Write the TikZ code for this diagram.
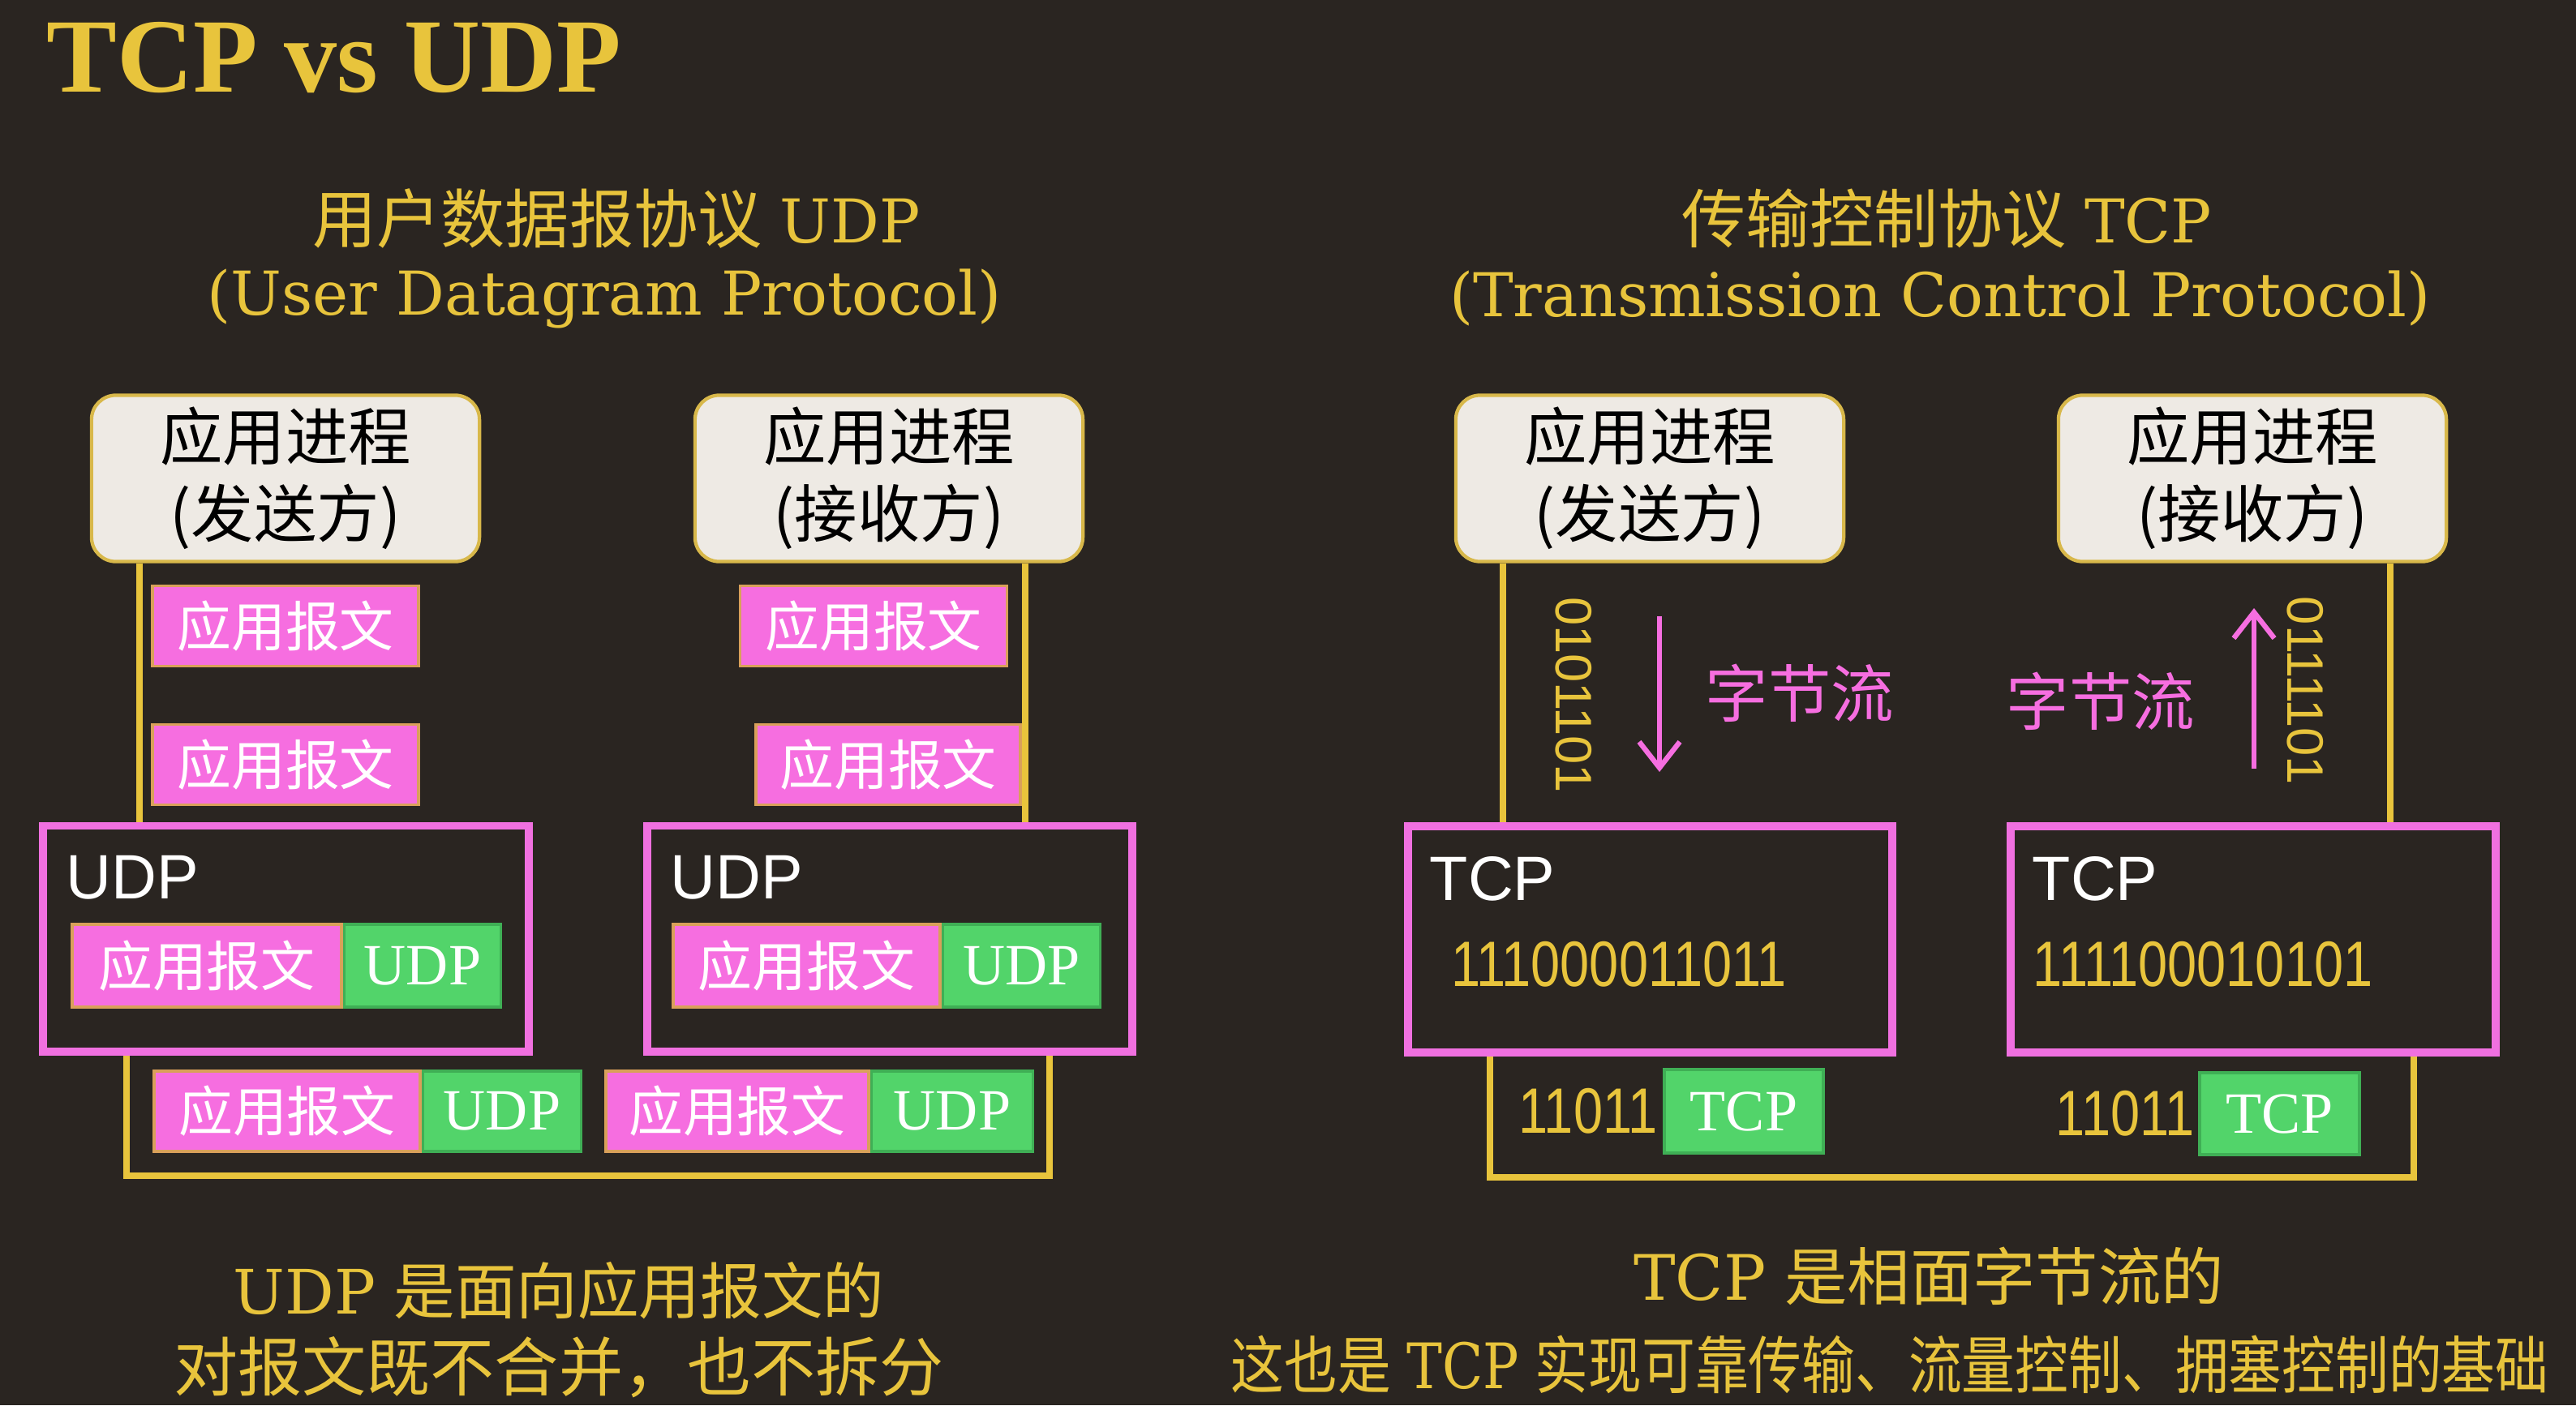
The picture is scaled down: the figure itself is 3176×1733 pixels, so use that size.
\documentclass[tikz,border=0pt]{standalone}
\usepackage{fontspec}
\usepackage{graphicx}
\usetikzlibrary{arrows.meta}
\setmainfont{Liberation Serif}
\newfontfamily\hdfont{DejaVu Serif}
\newfontfamily\tmfont{Liberation Serif}
\newfontfamily\sffont{Liberation Sans}
\newfontfamily\nsffont[FakeStretch=0.82]{Liberation Sans}
\newfontfamily\cjk{Noto Sans CJK SC}
\newcommand{\myfs}[1]{\fontsize{#1}{#1}\selectfont}
\newcommand{\gap}{\hspace{0.3em}}
\pgfdeclarelayer{bgfill}
\pgfdeclarelayer{wires}
\pgfsetlayers{bgfill,wires,main}
\definecolor{bgc}{HTML}{2A2521}
\definecolor{ylw}{HTML}{E8C43C}
\definecolor{pnk}{HTML}{F66EE0}
\definecolor{pnkb}{HTML}{D9A05A}
\definecolor{grn}{HTML}{52D46A}
\definecolor{grnb}{HTML}{3FAF55}
\definecolor{appf}{HTML}{EEEAE4}
\definecolor{appb}{HTML}{D8B84A}
\definecolor{pbox}{HTML}{F070E0}
\tikzset{
  appbox/.style={draw=appb, line width=1.2pt, fill=appf, rounded corners=0.3cm,
    minimum width=4.78cm, minimum height=2.05cm, align=center, text=black,
    font=\cjk\fontsize{22}{27}\selectfont, inner sep=0pt},
  msg/.style={draw=pnkb, line width=1pt, fill=pnk, text=white, font=\cjk\myfs{19},
    minimum width=3.28cm, minimum height=0.99cm, inner sep=0pt},
  hdr/.style={draw=grnb, line width=1pt, fill=grn, text=white, font=\tmfont\myfs{20.5},
    minimum height=0.99cm, inner sep=0pt},
  layer/.style={draw=pbox, line width=2.8pt, fill=bgc, minimum width=5.98cm, minimum height=2.78cm},
  lbl/.style={text=white, font=\sffont\myfs{22}, inner sep=0pt, anchor=west},
  yline/.style={draw=ylw, line width=2.3pt},
  ytext/.style={text=ylw, inner sep=0pt},
  bits/.style={text=ylw, inner sep=0pt, font=\nsffont\myfs{22.5}},
  vbits/.style={text=ylw, inner sep=0pt, font=\sffont\myfs{18}, rotate=-90},
  flow/.style={text=pnk, inner sep=0pt, font=\cjk\myfs{22}},
  parrow/.style={draw=pnk, line width=1.8pt, -{Straight Barb[length=0.32cm, width=0.5cm, line width=1.8pt]}}
}
\begin{document}
\begin{tikzpicture}[x=0.01cm, y=-0.01cm]
\begin{pgfonlayer}{bgfill}
\fill[bgc] (0,0) rectangle (3176,1733);
\end{pgfonlayer}
\useasboundingbox (0,0) rectangle (3176,1733);

% title and headings
\node[ytext, anchor=west, font=\tmfont\bfseries\myfs{37}] (title) at (57,71) {TCP vs UDP};
\node[ytext] (uhead) at (760,270) {{\cjk\myfs{22.5}用户数据报协议}{\hdfont\myfs{21.2}\gap UDP}};
\node[ytext, font=\hdfont\myfs{21.2}] (uhead2) at (745,368) {(User Datagram Protocol)};
\node[ytext] (thead) at (2400,270) {{\cjk\myfs{22.5}传输控制协议}{\hdfont\myfs{21.2}\gap TCP}};
\node[ytext, font=\hdfont\myfs{21.2}] (thead2) at (2392,368) {(Transmission Control Protocol)};

% ---------------- UDP side ----------------
\coordinate (ux1) at (172,0);
\coordinate (ux2) at (1264,0);
\coordinate (uxa) at (156,0);
\coordinate (uxb) at (1294,0);
\coordinate (uy) at (0,1450);

\node[appbox] (uas) at (352,590) {应用进程\\(发送方)};
\node[appbox] (uar) at (1096,590) {应用进程\\(接收方)};

\node[layer] (ul) at (352.5,1157.5) {};
\node[layer] (ur) at (1097,1157.5) {};

\begin{pgfonlayer}{wires}
\draw[yline] (uas.south -| ux1) -- (ul.north -| ux1);
\draw[yline] (uar.south -| ux2) -- (ur.north -| ux2);
\draw[yline] (ul.south -| uxa) -- (uxa |- uy) -- (uxb |- uy) -- (ur.south -| uxb);
\end{pgfonlayer}

\node[msg] (um1) at (352,772) {应用报文};
\node[msg] (um2) at (352,943) {应用报文};
\node[msg, minimum width=3.29cm] (um3) at (1077,772) {应用报文};
\node[msg, minimum width=3.26cm] (um4) at (1095,943) {应用报文};

\node[lbl] (ulab) at (81,1082) {UDP};
\node[lbl] (urlab) at (826,1082) {UDP};

\node[msg, anchor=west, minimum width=3.32cm, minimum height=1.02cm] (up1) at (87,1191) {应用报文};
\node[hdr, anchor=west, minimum width=1.93cm, minimum height=1.02cm] (uh1) at (up1.east) {UDP};
\node[msg, anchor=west, minimum width=3.29cm, minimum height=1.02cm] (up2) at (828,1191) {应用报文};
\node[hdr, anchor=west, minimum width=1.94cm, minimum height=1.02cm] (uh2) at (up2.east) {UDP};

\node[msg, anchor=west] (ub1) at (188,1370.5) {应用报文};
\node[hdr, anchor=west, minimum width=1.95cm] (ubh1) at (ub1.east) {UDP};
\node[msg, anchor=west, minimum width=3.24cm] (ub2) at (745,1370.5) {应用报文};
\node[hdr, anchor=west, minimum width=1.99cm] (ubh2) at (ub2.east) {UDP};

% ---------------- TCP side ----------------
\coordinate (tx1) at (1853,0);
\coordinate (tx2) at (2947,0);
\coordinate (txa) at (1837,0);
\coordinate (txb) at (2976,0);
\coordinate (ty) at (0,1452);

\node[appbox] (tas) at (2034,590) {应用进程\\(发送方)};
\node[appbox] (tar) at (2777,590) {应用进程\\(接收方)};

\node[layer, minimum width=5.97cm, minimum height=2.79cm] (tl) at (2034.5,1158.5) {};
\node[layer, minimum width=5.98cm, minimum height=2.79cm] (tr) at (2778,1158.5) {};

\begin{pgfonlayer}{wires}
\draw[yline] (tas.south -| tx1) -- (tl.north -| tx1);
\draw[yline] (tar.south -| tx2) -- (tr.north -| tx2);
\draw[yline] (tl.south -| txa) -- (txa |- ty) -- (txb |- ty) -- (tr.south -| txb);
\end{pgfonlayer}

\node[vbits] (tb1) at (1940,857) {0101101};
\node[vbits] (tb2) at (2842,852) {0111101};

\coordinate (da) at (2046,760);
\coordinate (db) at (2046,952);
\coordinate (ua) at (2779,948);
\coordinate (ub) at (2779,750);
\draw[parrow] (da) -- (db);
\draw[parrow] (ua) -- (ub);

\node[flow] (tz1) at (2219,855) {字节流};
\node[flow] (tz2) at (2590,865) {字节流};

\node[lbl] (tlab) at (1762,1084) {TCP};
\node[lbl] (trlab) at (2505,1084) {TCP};

\node[bits] (td1) at (1996,1189) {111000011011};
\node[bits] (td2) at (2716,1189) {111100010101};

\node[hdr, minimum width=1.96cm, minimum height=1.03cm] (tg1) at (2150,1370.5) {TCP};
\node[bits, anchor=east] (tn1) at ([xshift=-0.06cm]tg1.west) {11011};
\node[hdr, minimum width=1.97cm, minimum height=1.01cm] (tg2) at (2810.5,1373.5) {TCP};
\node[bits, anchor=east] (tn2) at ([xshift=-0.04cm]tg2.west) {11011};

% ---------------- bottom texts ----------------
\node[ytext] (ua1) at (689,1592) {{\hdfont\myfs{21.5}UDP\gap}{\cjk\myfs{21.5}是面向应用报文的}};
\node[ytext, font=\cjk\myfs{22.5}] (ua2) at (689,1686) {对报文既不合并，也不拆分};
\node[ytext] (ta1) at (2378,1574) {{\hdfont\myfs{22}TCP\gap}{\cjk\myfs{22}是相面字节流的}};
\node[ytext] (ta2) at (2330,1683) {\scalebox{0.85}[1]{{\cjk\myfs{22}这也是\gap}{\hdfont\myfs{22}TCP\gap}{\cjk\myfs{22}实现可靠传输、流量控制、拥塞控制的基础}}};
\end{tikzpicture}
\end{document}
